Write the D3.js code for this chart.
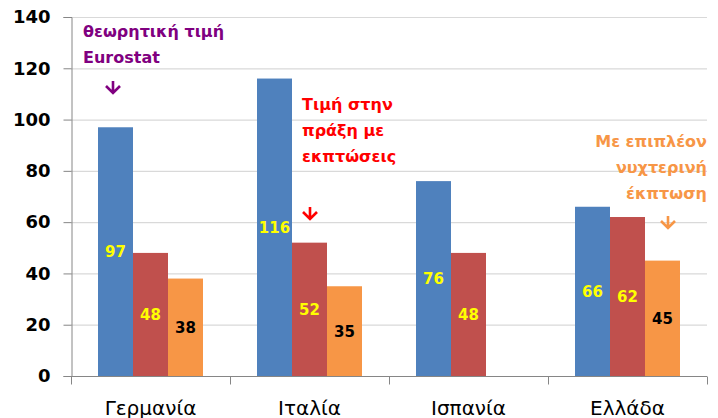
<!DOCTYPE html>
<html>
<head>
<meta charset="utf-8">
<script src="https://cdn.jsdelivr.net/npm/d3@7"></script>
<style>
  body { margin: 0; background: #fff; }
  svg { display: block; font-family: "DejaVu Sans", sans-serif; }
</style>
</head>
<body>
<svg id="chart" width="718" height="418"></svg>
<script>
var categories = ['Γερμανία', 'Ιταλία', 'Ισπανία', 'Ελλάδα'];
var seriesNames = ['eurostat', 'practice', 'night'];
var eurostat = [97, 116, 76, 66];
var practice = [48, 52, 48, 62];
var night = [38, 35, null, 45];
var yTicks = [0, 20, 40, 60, 80, 100, 120, 140];

var colors = { eurostat: '#4F81BD', practice: '#C0504D', night: '#F79646' };
var labelColors = { eurostat: '#FFFF00', practice: '#FFFF00', night: '#000000' };

var width = 718, height = 418;
var margin = { top: 17, right: 11, bottom: 42, left: 71 };

var svg = d3.select('svg#chart');

var x = d3.scaleBand()
  .domain(categories)
  .range([margin.left, width - margin.right]);

var x1 = d3.scaleBand()
  .domain(seriesNames)
  .range([27, x.bandwidth() - 27]);

var y = d3.scaleLinear()
  .domain([0, 140])
  .range([height - margin.bottom, margin.top]);

// gridlines
svg.append('g')
  .selectAll('line')
  .data(yTicks.slice(1))
  .join('line')
  .attr('x1', margin.left)
  .attr('x2', width - margin.right)
  .attr('y1', function(d) { return y(d) + 0.5; })
  .attr('y2', function(d) { return y(d) + 0.5; })
  .attr('stroke', '#d9d9d9')
  .attr('stroke-width', 1.2);

// y axis
var yAxis = svg.append('g')
  .attr('transform', 'translate(' + (margin.left + 0.5) + ',0)')
  .call(d3.axisLeft(y).tickValues(yTicks).tickSize(8).tickPadding(13));
yAxis.select('.domain').attr('stroke', '#868686');
yAxis.selectAll('.tick line').attr('stroke', '#868686');
yAxis.selectAll('.tick text')
  .attr('font-size', 18)
  .attr('font-weight', 'bold')
  .attr('fill', '#000')
  .attr('font-family', '"DejaVu Sans", sans-serif');

// bars
var rows = categories.map(function(c, i) {
  return { cat: c, eurostat: eurostat[i], practice: practice[i], night: night[i] };
});

var groups = svg.append('g')
  .selectAll('g')
  .data(rows)
  .join('g')
  .attr('transform', function(d) { return 'translate(' + x(d.cat) + ',0)'; });

var cells = groups.selectAll('g')
  .data(function(d) {
    return seriesNames
      .filter(function(k) { return d[k] != null; })
      .map(function(k) { return { key: k, value: d[k] }; });
  })
  .join('g');

cells.append('rect')
  .attr('x', function(d) { return x1(d.key); })
  .attr('width', x1.bandwidth())
  .attr('y', function(d) { return y(d.value); })
  .attr('height', function(d) { return y(0) - y(d.value); })
  .attr('fill', function(d) { return colors[d.key]; });

cells.append('text')
  .attr('x', function(d) { return x1(d.key) + x1.bandwidth() / 2; })
  .attr('y', function(d) { return (y(d.value) + y(0)) / 2; })
  .attr('dy', '0.36em')
  .attr('text-anchor', 'middle')
  .attr('font-size', 15)
  .attr('font-weight', 'bold')
  .attr('fill', function(d) { return labelColors[d.key]; })
  .text(function(d) { return d.value; });

// x axis
var xAxis = svg.append('g')
  .attr('transform', 'translate(0,' + (y(0) + 0.5) + ')');
xAxis.append('line')
  .attr('x1', margin.left)
  .attr('x2', width - margin.right)
  .attr('stroke', '#868686');
var bounds = categories.map(function(c) { return x(c); }).concat([x.range()[1]]);
xAxis.selectAll('line.tick')
  .data(bounds)
  .join('line')
  .attr('class', 'tick')
  .attr('x1', function(d) { return d + 0.5; })
  .attr('x2', function(d) { return d + 0.5; })
  .attr('y1', 0)
  .attr('y2', 8)
  .attr('stroke', '#868686');
xAxis.selectAll('text')
  .data(categories)
  .join('text')
  .attr('x', function(d) { return x(d) + x.bandwidth() / 2; })
  .attr('y', 38)
  .attr('text-anchor', 'middle')
  .attr('font-size', 20)
  .attr('fill', '#000')
  .text(function(d) { return d; });

// annotations
function note(lines, px, py, color, anchor) {
  var t = svg.append('text')
    .attr('font-size', 16)
    .attr('font-weight', 'bold')
    .attr('fill', color)
    .attr('text-anchor', anchor);
  lines.forEach(function(s, i) {
    t.append('tspan').attr('x', px).attr('y', py + i * 26).text(s);
  });
}
function arrow(px, py, color) {
  svg.append('path')
    .attr('d', 'M' + px + ',' + py + 'v12 M' + (px - 7) + ',' + (py + 5) + 'l7,7l7,-7')
    .attr('fill', 'none')
    .attr('stroke', color)
    .attr('stroke-width', 2.6);
}

note(['θεωρητική τιμή', 'Eurostat'], 83, 37, '#800080', 'start');
arrow(113, 81, '#800080');
note(['Τιμή στην', 'πράξη με', 'εκπτώσεις'], 302, 110, '#FF0000', 'start');
arrow(310, 207, '#FF0000');
note(['Με επιπλέον', 'νυχτερινή', 'έκπτωση'], 707, 147, '#F79646', 'end');
arrow(668, 216, '#F79646');
</script>
</body>
</html>
